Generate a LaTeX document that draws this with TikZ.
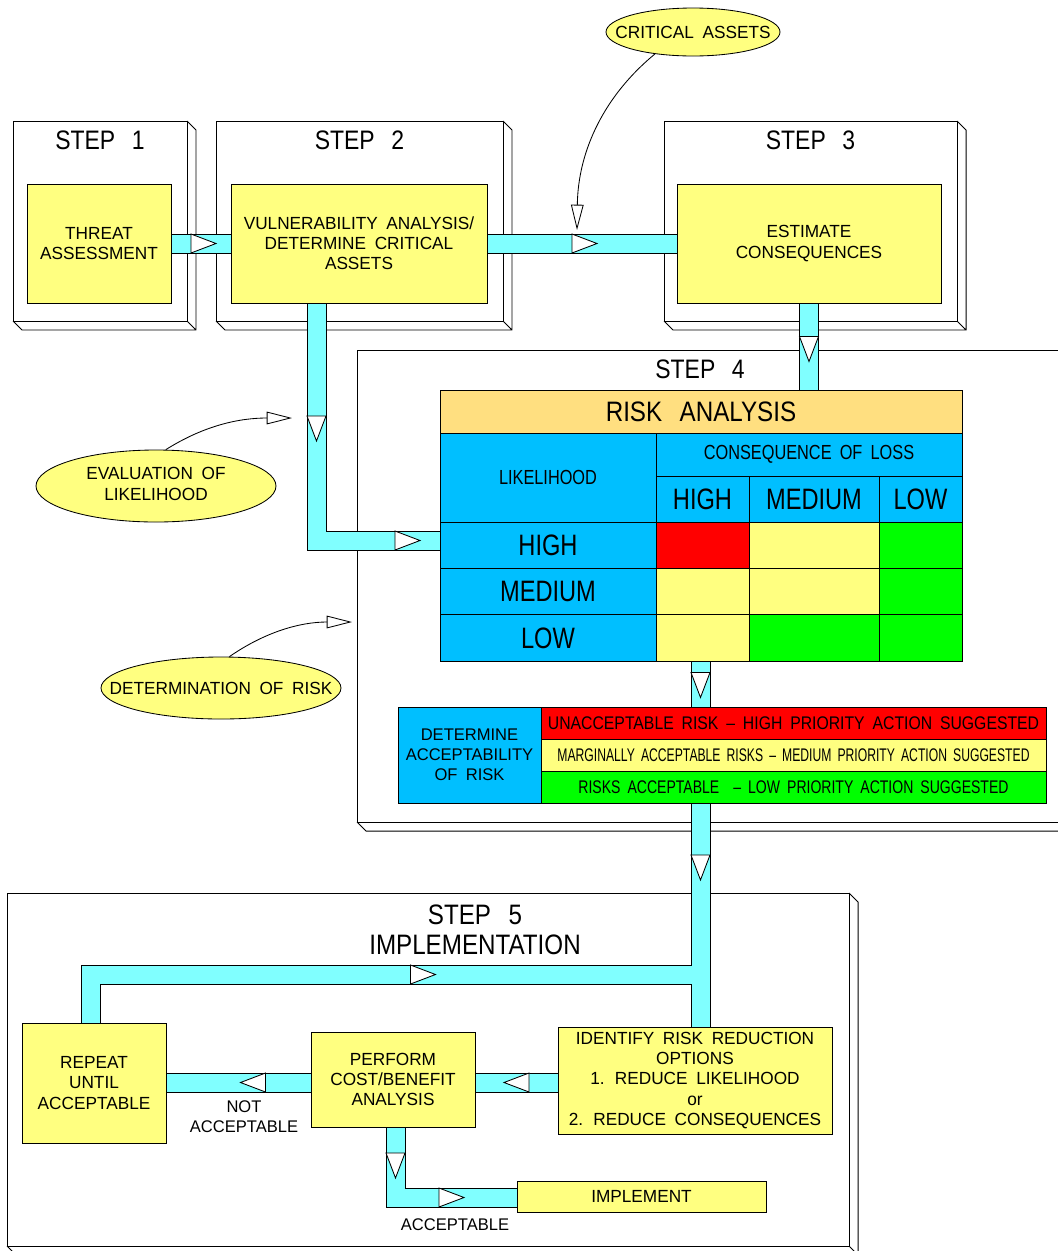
\documentclass[tikz,border=0pt]{standalone}
\usepackage{graphicx}
\usepackage{fontspec}
\setmainfont{Liberation Sans}[FakeStretch=0.98, WordSpace=1.8]
\newfontfamily\estreita{Liberation Sans}[FakeStretch=0.8, WordSpace=1.8]
\newfontfamily\titulo{Liberation Sans}[FakeStretch=0.86, WordSpace=2.6]
\usetikzlibrary{arrows.meta, calc, shapes.geometric, backgrounds}

\newcommand\pxu{0.025cm}
\definecolor{amarelo}{HTML}{FFFF80}
\definecolor{ciano}{HTML}{80FFFF}
\definecolor{azul}{HTML}{00BFFF}
\definecolor{laranja}{HTML}{FFDF80}
\definecolor{verde}{HTML}{00FF00}
\definecolor{vermelho}{HTML}{FF0000}

\tikzset{
  tam/.style 2 args={minimum width=#1*\pxu, minimum height=#2*\pxu},
  quadro/.style={draw, fill=white, inner sep=0, outer sep=0, line width=0.7pt},
  passo/.style={font=\titulo\fontsize{19}{21.5}\selectfont, align=center, inner sep=0},
  caixa/.style={draw, fill=amarelo, align=center, inner sep=0, outer sep=0,
    line width=0.7pt, font=\fontsize{12.5}{14.3}\selectfont},
  celula/.style={draw, inner sep=0, outer sep=0, line width=0.7pt, align=center,
    font=\fontsize{13}{14.3}\selectfont},
  grande/.style={font=\estreita\fontsize{21}{24}\selectfont},
  balao/.style={ellipse, draw, fill=amarelo, inner sep=0, line width=0.6pt,
    font=\fontsize{12.5}{14.3}\selectfont},
  rotulo/.style={align=center, inner sep=0, font=\fontsize{12}{14.3}\selectfont},
  tuboborda/.style={line width=20*\pxu, draw=black},
  tubomiolo/.style={line width=18*\pxu, draw=ciano},
  curva/.style={line width=0.6pt, -{Triangle[open, length=18pt, width=9pt]}},
}

% chanfro 3D dos quadros
\newcommand\chanfro[1]{%
  \draw[line width=0.7pt] (#1.north east) -- ++(9,9) -- ($(#1.south east)+(9,9)$)
    -- ($(#1.south west)+(9,9)$) -- (#1.south west)
    (#1.south east) -- ++(9,9);}

% seta branca dentro do tubo
\newcommand\seta[3]{%
  \draw[fill=white, line width=0.6pt, shift={(#1,#2)}, rotate=#3]
    (-12.5,-9.5) -- (12.5,0) -- (-12.5,9.5) -- cycle;}

\begin{document}
\begin{tikzpicture}[x=\pxu, y=-\pxu]
    \useasboundingbox (0,0) rectangle (1058,1251);

    % Quadros dos passos
    \begin{scope}[on background layer]
        \node[quadro, tam={174}{200}] (step1) at (100,221) {};
        \node[quadro, tam={287}{200}] (step2) at (359.5,221) {};
        \node[quadro, tam={293}{200}] (step3) at (810.5,221) {};
        \node[quadro, tam={718}{472}] (step4) at (716,586) {};
        \node[quadro, tam={842}{353}] (step5) at (428,1069.5) {};
        \foreach \s in {step1,step2,step3,step4,step5}
            \chanfro{\s};
    \end{scope}

    \node[passo] (title1) at ($(step1.north)+(0,19)$) {STEP 1};
    \node[passo] (title2) at ($(step2.north)+(0,19)$) {STEP 2};
    \node[passo] (title3) at ($(step3.north)+(0,19)$) {STEP 3};
    \node[passo] (title4) at (700,369) {STEP 4};
    \node[passo, font=\titulo\fontsize{20}{21.5}\selectfont] (title5) at (475,930)
        {STEP 5\\IMPLEMENTATION};

    % Caixas dos passos 1 a 3
    \node[caixa, tam={144}{119}] (threat) at (99,243.5) {THREAT\\ASSESSMENT};
    \node[caixa, tam={256}{119}] (vuln) at (359,243.5)
        {VULNERABILITY ANALYSIS/\\DETERMINE CRITICAL\\ASSETS};
    \node[caixa, tam={264}{119}] (estimate) at (809,243.5) {ESTIMATE\\CONSEQUENCES};

    % Matriz de risco
    \node[celula, fill=laranja, tam={522}{43}, font=\titulo\fontsize{20}{22}\selectfont]
        (analise) at (701,411.5) {RISK ANALYSIS};
    \node[celula, fill=azul, tam={216}{89}, font=\estreita\fontsize{14.5}{16}\selectfont]
        (likelihood) at (548,477.5) {LIKELIHOOD};
    \node[celula, fill=azul, tam={306}{43}, font=\estreita\fontsize{14.5}{16}\selectfont]
        (consequence) at (809,454.5) {CONSEQUENCE OF LOSS};
    \foreach \n/\x/\w/\t in {cH/702.5/93/HIGH, cM/814/130/MEDIUM, cL/920.5/83/LOW}
        \node[celula, fill=azul, tam={\w}{46}, grande] (\n) at (\x,499) {\t};
    \foreach \n/\y/\t in {rH/545.17/HIGH, rM/591.5/MEDIUM, rL/637.83/LOW}
        \node[celula, fill=azul, tam={216}{46.33}, grande] (\n) at (548,\y) {\t};
    \foreach \l/\y/\ca/\cb/\cc in {H/545.17/vermelho/amarelo/verde,
                                   M/591.5/amarelo/amarelo/verde,
                                   L/637.83/amarelo/verde/verde} {
        \node[celula, fill=\ca, tam={93}{46.33}] (m\l1) at (702.5,\y) {};
        \node[celula, fill=\cb, tam={130}{46.33}] (m\l2) at (814,\y) {};
        \node[celula, fill=\cc, tam={83}{46.33}] (m\l3) at (920.5,\y) {};
    }

    % Aceitabilidade
    \node[celula, fill=azul, tam={143}{96}, font=\fontsize{12}{14.3}\selectfont]
        (determine) at (469.5,755) {DETERMINE\\ACCEPTABILITY\\OF RISK};
    \node[celula, fill=vermelho, tam={505}{32}] (accRed) at (793.5,723)
        {\resizebox{12.275cm}{\height}{UNACCEPTABLE RISK -- HIGH PRIORITY ACTION SUGGESTED}};
    \node[celula, fill=amarelo, tam={505}{32}] (accYellow) at (793.5,755)
        {\resizebox{11.8cm}{\height}{MARGINALLY ACCEPTABLE RISKS -- MEDIUM PRIORITY ACTION SUGGESTED}};
    \node[celula, fill=verde, tam={505}{32}] (accGreen) at (793.5,787)
        {\resizebox{10.75cm}{\height}{RISKS ACCEPTABLE\ \ -- LOW PRIORITY ACTION SUGGESTED}};

    % Passo 5
    \node[caixa, tam={144}{120}] (repeat) at (94,1083) {REPEAT\\UNTIL\\ACCEPTABLE};
    \node[caixa, tam={164}{95}] (perform) at (393,1079.5) {PERFORM\\COST/BENEFIT\\ANALYSIS};
    \node[caixa, tam={274}{107}] (identify) at (695,1080.5)
        {IDENTIFY RISK REDUCTION\\OPTIONS\\1. REDUCE LIKELIHOOD\\or\\2. REDUCE CONSEQUENCES};
    \node[caixa, tam={249}{31}] (implement) at (641.5,1196.5) {IMPLEMENT};
    \node[rotulo] (notacc) at (244,1117) {NOT\\ACCEPTABLE};
    \node[rotulo] (acc) at (455,1225) {ACCEPTABLE};

    % Tubos
    \coordinate (likeTurn) at (316.5,540.5);
    \coordinate (accDrop) at (700.5,974.5);
    \coordinate (loopTurn) at (90.5,974.5);
    \coordinate (costRow) at (0,1082.5);
    \coordinate (accTurn) at (395.5,1197.5);
    \begin{scope}[on background layer]
        \foreach \estilo in {tuboborda,tubomiolo} {
            \draw[\estilo] (threat) -- (vuln);
            \draw[\estilo] (vuln) -- (estimate);
            \draw[\estilo] (estimate.south) -- (estimate.south |- analise.north);
            \draw[\estilo] (likeTurn |- vuln.south) -- (likeTurn) -- (likeTurn -| rH.west);
            \draw[\estilo] (accDrop |- mL1.south) -- (accDrop |- accRed.north);
            \draw[\estilo] (accDrop |- accGreen.south) -- (accDrop |- identify.north);
            \draw[\estilo] (accDrop) -- (loopTurn) -- (loopTurn |- repeat.north);
            \draw[\estilo] (identify.west |- costRow) -- (perform.east |- costRow);
            \draw[\estilo] (perform.west |- costRow) -- (repeat.east |- costRow);
            \draw[\estilo] (accTurn |- perform.south) -- (accTurn) -- (accTurn -| implement.west);
        }
    \end{scope}

    % Setas nos tubos
    \foreach \x/\y/\a in {203.5/243.5/0, 584.5/243.5/0, 809/349/-90,
                          316.5/428.5/-90, 407.5/540.5/0, 700.5/685/-90,
                          700.5/867.5/-90, 423/974.5/0, 516.5/1082.5/180,
                          253/1082.5/180, 395.5/1165.5/-90, 451.5/1197.5/0}
        \seta{\x}{\y}{\a};

    % Baloes
    \node[balao, tam={174}{48}] (critical) at (693,32) {\makebox[0pt]{CRITICAL ASSETS}};
    \node[balao, tam={240}{72}] (evaluation) at (156,486)
        {\makebox[0pt]{\begin{tabular}{@{}c@{}}EVALUATION OF\\LIKELIHOOD\end{tabular}}};
    \node[balao, tam={240}{62}] (determination) at (221,688)
        {\makebox[0pt]{DETERMINATION OF RISK}};

    \coordinate (critTip) at (577,230);
    \coordinate (likeTip) at (292,418);
    \coordinate (riskTip) at (352,622);
    \draw[curva] (critical.210) .. controls (605,95) and (578,150) .. (critTip);
    \draw[curva] (evaluation.75) .. controls (205,425) and (240,418) .. (likeTip);
    \draw[curva] (determination.75) .. controls (265,632) and (300,622) .. (riskTip);
\end{tikzpicture}
\end{document}
